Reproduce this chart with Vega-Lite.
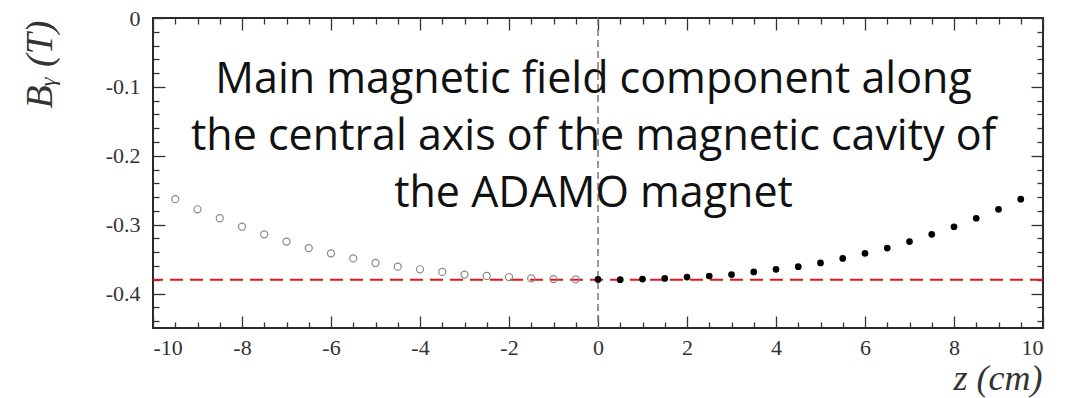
{
  "$schema": "https://vega.github.io/schema/vega-lite/v6.json",
  "width": 890,
  "height": 310,
  "autosize": {"type": "none"},
  "padding": {"left": 153, "top": 18, "right": 33, "bottom": 70},
  "background": "white",
  "config": {
    "view": {"stroke": "#2a2a2a", "strokeWidth": 2},
    "axis": {
      "grid": false,
      "domain": false,
      "labelFont": "Liberation Serif",
      "labelFontSize": 22,
      "labelColor": "#333",
      "tickColor": "#333",
      "tickWidth": 1.3,
      "titleFont": "Liberation Serif",
      "titleFontStyle": "italic",
      "titleFontWeight": "normal",
      "titleColor": "#333"
    }
  },
  "datasets": {
    "field": [
      {"z": -9.5, "By": -0.263, "side": "neg"},
      {"z": -9.0, "By": -0.2777, "side": "neg"},
      {"z": -8.5, "By": -0.2907, "side": "neg"},
      {"z": -8.0, "By": -0.303, "side": "neg"},
      {"z": -7.5, "By": -0.314, "side": "neg"},
      {"z": -7.0, "By": -0.3246, "side": "neg"},
      {"z": -6.5, "By": -0.334, "side": "neg"},
      {"z": -6.0, "By": -0.3416, "side": "neg"},
      {"z": -5.5, "By": -0.349, "side": "neg"},
      {"z": -5.0, "By": -0.3556, "side": "neg"},
      {"z": -4.5, "By": -0.361, "side": "neg"},
      {"z": -4.0, "By": -0.3648, "side": "neg"},
      {"z": -3.5, "By": -0.3686, "side": "neg"},
      {"z": -3.0, "By": -0.3725, "side": "neg"},
      {"z": -2.5, "By": -0.3745, "side": "neg"},
      {"z": -2.0, "By": -0.376, "side": "neg"},
      {"z": -1.5, "By": -0.378, "side": "neg"},
      {"z": -1.0, "By": -0.379, "side": "neg"},
      {"z": -0.5, "By": -0.3795, "side": "neg"},
      {"z": 0.0, "By": -0.3795, "side": "pos"},
      {"z": 0.5, "By": -0.3798, "side": "pos"},
      {"z": 1.0, "By": -0.379, "side": "pos"},
      {"z": 1.5, "By": -0.378, "side": "pos"},
      {"z": 2.0, "By": -0.376, "side": "pos"},
      {"z": 2.5, "By": -0.3745, "side": "pos"},
      {"z": 3.0, "By": -0.3725, "side": "pos"},
      {"z": 3.5, "By": -0.3686, "side": "pos"},
      {"z": 4.0, "By": -0.3648, "side": "pos"},
      {"z": 4.5, "By": -0.361, "side": "pos"},
      {"z": 5.0, "By": -0.3556, "side": "pos"},
      {"z": 5.5, "By": -0.349, "side": "pos"},
      {"z": 6.0, "By": -0.3416, "side": "pos"},
      {"z": 6.5, "By": -0.334, "side": "pos"},
      {"z": 7.0, "By": -0.3246, "side": "pos"},
      {"z": 7.5, "By": -0.314, "side": "pos"},
      {"z": 8.0, "By": -0.303, "side": "pos"},
      {"z": 8.5, "By": -0.2907, "side": "pos"},
      {"z": 9.0, "By": -0.2777, "side": "pos"},
      {"z": 9.5, "By": -0.263, "side": "pos"}
    ],
    "hline": [{"By": -0.38}],
    "vline": [{"z": 0}],
    "note": [{"z": -0.1, "By": -0.1089, "label": ["Main magnetic field component along", "the central axis of the magnetic cavity of", "the ADAMO magnet"]}]
  },
  "layer": [
    {
      "data": {"name": "hline"},
      "mark": {"type": "rule", "color": "#e8141c", "strokeWidth": 2, "strokeDash": [13, 7]},
      "encoding": {
        "y": {"field": "By", "type": "quantitative", "scale": {"domain": [-0.45, 0], "nice": false, "zero": false}, "axis": null}
      }
    },
    {
      "data": {"name": "vline"},
      "mark": {"type": "rule", "color": "#777", "strokeWidth": 1.5, "strokeDash": [7, 4]},
      "encoding": {
        "x": {"field": "z", "type": "quantitative", "scale": {"domain": [-10, 10], "nice": false, "zero": false}, "axis": null}
      }
    },
    {
      "data": {"name": "field"},
      "transform": [{"filter": "datum.side === 'neg'"}],
      "mark": {"type": "point", "shape": "circle", "filled": false, "stroke": "#8a8a8a", "strokeWidth": 1.2, "size": 50, "opacity": 1},
      "encoding": {
        "x": {
          "field": "z", "type": "quantitative",
          "scale": {"domain": [-10, 10], "nice": false, "zero": false},
          "axis": {
            "orient": "bottom",
            "values": [-10, -8, -6, -4, -2, 0, 2, 4, 6, 8, 10],
            "tickSize": -12,
            "labelPadding": 21,
            "labelExpr": "replace(format(datum.value, '~g'), '\u2212', '-')",
            "title": "z (cm)",
            "titleFontSize": 36,
            "titleX": 889,
            "titleY": 61,
            "titleAlign": "right",
            "titleBaseline": "alphabetic"
          }
        },
        "y": {
          "field": "By", "type": "quantitative",
          "scale": {"domain": [-0.45, 0], "nice": false, "zero": false},
          "axis": {
            "orient": "left",
            "values": [0, -0.1, -0.2, -0.3, -0.4],
            "tickSize": -12,
            "labelPadding": 25,
            "labelExpr": "replace(format(datum.value, '~g'), '\u2212', '-')",
            "title": "Bᵧ (T)",
            "titleFontSize": 38,
            "titleAngle": -90,
            "titleX": -113,
            "titleY": 2,
            "titleAlign": "right",
            "titleBaseline": "middle"
          }
        }
      }
    },
    {
      "data": {"name": "field"},
      "transform": [{"filter": "datum.side === 'pos'"}],
      "mark": {"type": "point", "shape": "circle", "filled": true, "color": "#000", "size": 45, "opacity": 1},
      "encoding": {
        "x": {
          "field": "z", "type": "quantitative",
          "scale": {"domain": [-10, 10], "nice": false, "zero": false},
          "axis": {
            "orient": "bottom",
            "values": [-9.5, -9, -8.5, -7.5, -7, -6.5, -5.5, -5, -4.5, -3.5, -3, -2.5, -1.5, -1, -0.5, 0.5, 1, 1.5, 2.5, 3, 3.5, 4.5, 5, 5.5, 6.5, 7, 7.5, 8.5, 9, 9.5],
            "tickSize": -6,
            "labels": false,
            "title": null
          }
        },
        "y": {
          "field": "By", "type": "quantitative",
          "scale": {"domain": [-0.45, 0], "nice": false, "zero": false},
          "axis": {
            "orient": "left",
            "values": [-0.02, -0.04, -0.06, -0.08, -0.12, -0.14, -0.16, -0.18, -0.22, -0.24, -0.26, -0.28, -0.32, -0.34, -0.36, -0.38, -0.42, -0.44],
            "tickSize": -6,
            "labels": false,
            "title": null
          }
        }
      }
    },
    {
      "data": {"name": "field"},
      "mark": {"type": "point", "opacity": 0},
      "encoding": {
        "x": {
          "field": "z", "type": "quantitative",
          "scale": {"domain": [-10, 10], "nice": false, "zero": false},
          "axis": {"orient": "top", "values": [-10, -8, -6, -4, -2, 0, 2, 4, 6, 8, 10], "tickSize": -12, "labels": false, "title": null}
        },
        "y": {
          "field": "By", "type": "quantitative",
          "scale": {"domain": [-0.45, 0], "nice": false, "zero": false},
          "axis": {"orient": "right", "values": [0, -0.1, -0.2, -0.3, -0.4], "tickSize": -12, "labels": false, "title": null}
        }
      }
    },
    {
      "data": {"name": "field"},
      "mark": {"type": "point", "opacity": 0},
      "encoding": {
        "x": {
          "field": "z", "type": "quantitative",
          "scale": {"domain": [-10, 10], "nice": false, "zero": false},
          "axis": {"orient": "top", "values": [-9.5, -9, -8.5, -7.5, -7, -6.5, -5.5, -5, -4.5, -3.5, -3, -2.5, -1.5, -1, -0.5, 0.5, 1, 1.5, 2.5, 3, 3.5, 4.5, 5, 5.5, 6.5, 7, 7.5, 8.5, 9, 9.5], "tickSize": -6, "labels": false, "title": null}
        },
        "y": {
          "field": "By", "type": "quantitative",
          "scale": {"domain": [-0.45, 0], "nice": false, "zero": false},
          "axis": {"orient": "right", "values": [-0.02, -0.04, -0.06, -0.08, -0.12, -0.14, -0.16, -0.18, -0.22, -0.24, -0.26, -0.28, -0.32, -0.34, -0.36, -0.38, -0.42, -0.44], "tickSize": -6, "labels": false, "title": null}
        }
      }
    },
    {
      "data": {"name": "note"},
      "mark": {"type": "text", "font": "Open Sans", "fontSize": 43, "lineHeight": 57, "align": "center", "baseline": "alphabetic", "color": "#111"},
      "encoding": {
        "x": {"field": "z", "type": "quantitative", "scale": {"domain": [-10, 10], "nice": false, "zero": false}, "axis": null},
        "y": {"field": "By", "type": "quantitative", "scale": {"domain": [-0.45, 0], "nice": false, "zero": false}, "axis": null},
        "text": {"field": "label"}
      }
    }
  ],
  "resolve": {"axis": {"x": "independent", "y": "independent"}}
}
